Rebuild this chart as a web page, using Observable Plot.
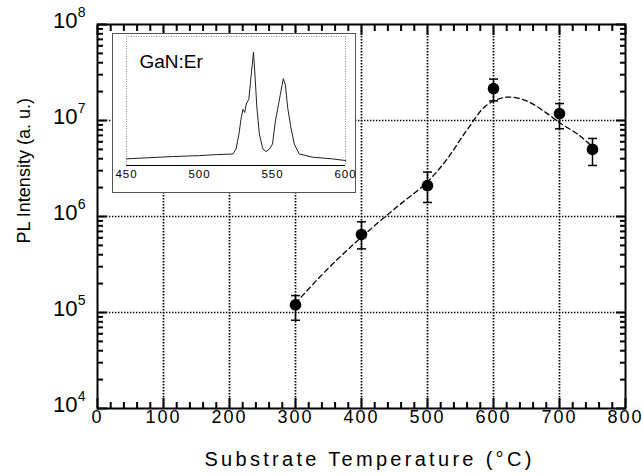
<!DOCTYPE html>
<html><head><meta charset="utf-8">
<script src="https://cdn.jsdelivr.net/npm/d3@7"></script>
<script src="https://cdn.jsdelivr.net/npm/@observablehq/plot@0.6"></script>
<style>
body{margin:0;background:#fff;}
#wrap{position:relative;width:643px;height:476px;font-family:"Liberation Sans",Arial,sans-serif;}
#inset{position:absolute;left:112px;top:33px;border:1px solid #555;background:#fff;line-height:0;}
#inset svg{overflow:visible;}
</style></head><body><div id="wrap"><div id="main"></div><div id="inset"></div></div>
<script>
// Main data: PL intensity vs substrate temperature
const temps = [300, 400, 500, 600, 700, 750];
const intensity = [1.2e5, 6.5e5, 2.1e6, 2.15e7, 1.18e7, 5.0e6];
const errHigh = [1.5e5, 8.8e5, 2.9e6, 2.7e7, 1.5e7, 6.5e6];
const errLow = [0.83e5, 4.6e5, 1.4e6, 1.6e7, 0.82e7, 3.4e6];
// Dashed guide curve
const fitT = [300, 350, 400, 450, 500, 530, 560, 590, 620, 650, 680, 700, 730, 750];
const fitI = [1.25e5, 2.9e5, 6.1e5, 1.2e6, 2.3e6, 4.0e6, 8.0e6, 1.45e7, 1.75e7, 1.6e7, 1.2e7, 9.5e6, 7.0e6, 5.3e6];
// Tick labels
const xTicks = [0, 100, 200, 300, 400, 500, 600, 700, 800];
const yTicks = [1e4, 1e5, 1e6, 1e7, 1e8];
const xGrid = [100, 200, 300, 400, 500, 600, 700];
const yGrid = [1e5, 1e6, 1e7];
// Inset spectrum (wavelength nm, arbitrary intensity)
const specWl = [450, 481, 500, 511.6, 523, 525, 527, 528.6, 529.8, 531, 532, 533.8, 535.4, 537, 538, 539.3, 541, 543.4, 545.6, 548, 550, 552, 553.5, 555.4, 557.4, 558.8, 560.4, 562.6, 564.9, 568.3, 577.3, 591, 600];
const specI = [0.055, 0.074, 0.082, 0.09, 0.096, 0.137, 0.26, 0.40, 0.466, 0.44, 0.51, 0.55, 0.75, 0.94, 0.75, 0.48, 0.26, 0.137, 0.115, 0.137, 0.178, 0.37, 0.466, 0.59, 0.72, 0.67, 0.48, 0.315, 0.178, 0.096, 0.069, 0.055, 0.041];
const insetTicks = [450, 500, 550, 600];
const insetLabel = "GaN:Er";
const xLabel = "Substrate Temperature (°C)";
const yLabel = "PL Intensity (a. u.)";

const points = temps.map((t, i) => ({t, v: intensity[i], lo: errLow[i], hi: errHigh[i]}));
const fit = fitT.map((t, i) => ({t, v: fitI[i]}));
const minorX = d3.range(0, 801, 20).filter(d => d % 100 !== 0);
const minorY = [];
for (let k = 4; k < 8; k++) for (let m = 2; m <= 9; m++) minorY.push(m * 10 ** k);
const font = "'Liberation Sans', Arial, sans-serif";

const W = 643, H = 476, ML = 97, MR = 18, MT = 24, MB = 68;
const big = 10, small = 6;
const blank = () => "";
// inward ticks built from Plot's own axis marks, shifted into the frame
const inTicks = (axis, ticks, anchor, size) => {
  const shift = {bottom: {dy: -size}, top: {dy: size}, left: {dx: size}, right: {dx: -size}}[anchor];
  return axis(ticks, {anchor, tickSize: size, tickFormat: blank, label: null, stroke: "#000", strokeWidth: 2, ...shift});
};
// line-shaped symbol for error-bar caps (half-length = r)
const cap = {draw(c, s) { const l = Math.sqrt(s / Math.PI); c.moveTo(-l, 0); c.lineTo(l, 0); }};

const main = Plot.plot({
  width: W, height: H,
  marginLeft: ML, marginRight: MR, marginTop: MT, marginBottom: MB,
  style: {fontFamily: font, fontSize: "18px", color: "#000", background: "#fff"},
  x: {domain: [0, 800], axis: null},
  y: {type: "log", domain: [1e4, 1e8], axis: null},
  marks: [
    Plot.gridX(xGrid, {stroke: "#000", strokeOpacity: 1, strokeWidth: 1.7, strokeDasharray: "1.4,1.6"}),
    Plot.gridY(yGrid, {stroke: "#000", strokeOpacity: 1, strokeWidth: 1.7, strokeDasharray: "1.4,1.6"}),
    inTicks(Plot.axisX, xTicks, "bottom", big),
    inTicks(Plot.axisX, minorX, "bottom", small),
    inTicks(Plot.axisX, xTicks, "top", big),
    inTicks(Plot.axisX, minorX, "top", small),
    inTicks(Plot.axisY, yTicks, "left", big),
    inTicks(Plot.axisY, minorY, "left", small),
    inTicks(Plot.axisY, yTicks, "right", big),
    inTicks(Plot.axisY, minorY, "right", small),
    // tick labels
    Plot.text(xTicks, {x: d => d, frameAnchor: "bottom", dy: 14, text: d => String(d), fontSize: 18}),
    Plot.text(yTicks, {y: d => d, frameAnchor: "left", dx: -20, dy: -4, textAnchor: "end", text: () => "10", fontSize: 22}),
    Plot.text(yTicks, {y: d => d, frameAnchor: "left", dx: -12, dy: -12, textAnchor: "end", text: d => String(Math.round(Math.log10(d))), fontSize: 14}),
    Plot.frame({stroke: "#000", strokeWidth: 2}),
    // axis titles
    Plot.text([xLabel], {frameAnchor: "bottom", dx: 8, dy: 57, fontSize: 20, text: d => d}),
    Plot.text([yLabel], {frameAnchor: "left", dx: -73, dy: 27, rotate: -90, fontSize: 18, text: d => d}),
    // data
    Plot.line(fit, {x: "t", y: "v", stroke: "#000", strokeWidth: 1.3, strokeDasharray: "5,3.5", curve: "catmull-rom"}),
    Plot.ruleX(points, {x: "t", y1: "lo", y2: "hi", stroke: "#000", strokeWidth: 1.5}),
    Plot.dot(points, {x: "t", y: "lo", symbol: cap, r: 4.5, fill: "none", stroke: "#000", strokeWidth: 1.5}),
    Plot.dot(points, {x: "t", y: "hi", symbol: cap, r: 4.5, fill: "none", stroke: "#000", strokeWidth: 1.5}),
    Plot.dot(points, {x: "t", y: "v", r: 5.8, fill: "#000", stroke: "none"})
  ]
});
document.getElementById("main").appendChild(main);
d3.select(main).selectAll("text").each(function() {
  const t = this.textContent;
  if (t === xLabel) this.style.letterSpacing = "3.3px";
  else if (xTicks.map(String).includes(t)) this.style.letterSpacing = "2px";
});

const inset = Plot.plot({
  width: 242, height: 158,
  marginLeft: 13, marginRight: 10, marginTop: 2, marginBottom: 27,
  style: {fontFamily: font, fontSize: "11px", color: "#000", background: "#fff"},
  x: {domain: [450, 600], axis: null},
  y: {domain: [0, 1.07], axis: null},
  marks: [
    Plot.ruleX([450, 600], {stroke: "#888", strokeDasharray: "1,1.5"}),
    Plot.ruleY([1.07], {stroke: "#888", strokeDasharray: "1,1.5"}),
    Plot.ruleY([0], {stroke: "#000", strokeWidth: 1.2}),
    Plot.text(insetTicks, {x: d => d, frameAnchor: "bottom", dy: 12, text: d => String(d), fontSize: 11.5}),
    Plot.line(specWl.map((w, i) => ({w, v: specI[i]})), {x: "w", y: "v", stroke: "#222", strokeWidth: 1}),
    Plot.text([insetLabel], {frameAnchor: "top-left", dx: 13, dy: 25, lineAnchor: "middle", fontSize: 19, textAnchor: "start", text: d => d})
  ]
});
document.getElementById("inset").appendChild(inset);
d3.select(inset).selectAll("text").each(function() {
  if (insetTicks.map(String).includes(this.textContent)) this.style.letterSpacing = "1px";
});
</script></body></html>
